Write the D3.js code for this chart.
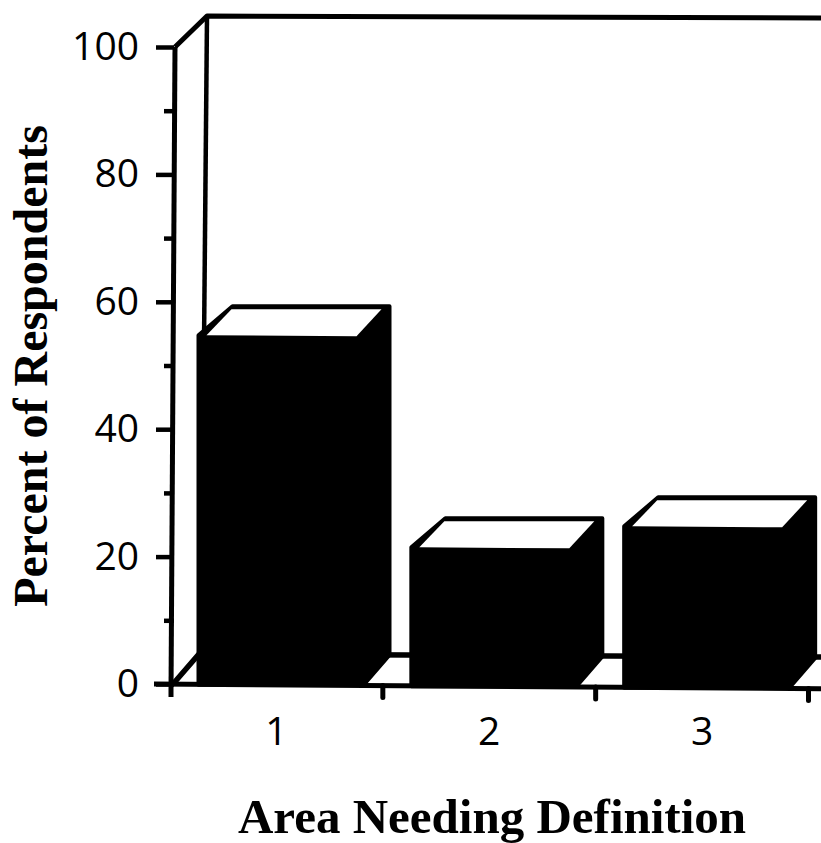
<!DOCTYPE html>
<html><head><meta charset="utf-8">
<script src="https://cdn.jsdelivr.net/npm/d3@7/dist/d3.min.js"></script>
<style>html,body{margin:0;padding:0;background:#fff}svg{display:block}</style>
</head><body><svg id="c" width="821" height="843"></svg>
<script>
const categories=["1","2","3"];
const values=[54.6,21.3,24.6];
const yTicks=[0,20,40,60,80,100];
const yMinor=[10,30,50,70,90];
const yTitle="Percent of Respondents";
const xTitle="Area Needing Definition";

const svg=d3.select("#c");
const ink="#000";
const y=d3.scaleLinear().domain([0,100]).range([684,47]);
const x=d3.scaleBand().domain(categories).range([170,808.5]);
const dx=34,dy=-31;
const base=px=>684+(px-154)*0.007;          // scan tilt of the base line
const axisX=py=>175-(py-47)*0.0062;         // scan tilt of the y axis

// back wall
svg.append("path").attr("d",`M${axisX(47)},47L207,16L821,18`).attr("fill","none").attr("stroke",ink).attr("stroke-width",5).attr("stroke-linejoin","round");
svg.append("line").attr("x1",207).attr("y1",16).attr("x2",204).attr("y2",345).attr("stroke",ink).attr("stroke-width",4.5);
// floor
svg.append("path").attr("d",`M173,684L199,654L821,657`).attr("fill","none").attr("stroke",ink).attr("stroke-width",5.5);

// bars
const barLeft=d=>x(d)+27.5;
const g=svg.selectAll("g.bar").data(categories).join("g").attr("class","bar");
g.append("path").attr("d",(d,i)=>{
  const l=barLeft(d),t=y(values[i]),b=base(l+80);
  return `M${l+1},${b}L${l+1},${t-1}L${l+dx+1},${t+dy+1}L${l+192},${t+dy+1}L${l+192},${b-30}L${l+166},${b}Z`;
}).attr("fill",ink).attr("stroke",ink).attr("stroke-width",4).attr("stroke-linejoin","round");
g.append("path").attr("d",(d,i)=>{
  const l=barLeft(d),t=y(values[i]);
  return `M${l+9},${t-1}L${l+34},${t-27}L${l+184},${t-27}L${l+159},${t}Z`;
}).attr("fill","#fff");

// y axis
const ya=svg.append("g").attr("transform","translate(174,0)")
  .call(d3.axisLeft(y).tickValues(yTicks).tickSize(18).tickFormat(d3.format("d")).tickPadding(17));
ya.select(".domain").remove();
ya.selectAll("line").attr("stroke",ink).attr("stroke-width",4.5);
ya.selectAll("text").attr("font-family","'Open Sans',sans-serif").attr("font-size",39).attr("fill",ink);
svg.append("g").attr("transform","translate(174,0)")
  .call(d3.axisLeft(y).tickValues(yMinor).tickSize(10).tickFormat(""))
  .call(s=>s.select(".domain").remove())
  .selectAll("line").attr("stroke",ink).attr("stroke-width",4.5);
svg.append("line").attr("x1",axisX(47)).attr("y1",47).attr("x2",axisX(697)).attr("y2",697).attr("stroke",ink).attr("stroke-width",5);

// x axis
const xa=svg.append("g").attr("transform","translate(0,687)")
  .call(d3.axisBottom(x).tickSize(0).tickPadding(30));
xa.select(".domain").remove();
xa.selectAll("text").attr("font-family","'Open Sans',sans-serif").attr("font-size",39).attr("fill",ink);
svg.selectAll("line.xt").data(x.domain().map(d=>x(d)+x.bandwidth())).join("line")
  .attr("x1",d=>d).attr("x2",d=>d).attr("y1",d=>base(d)).attr("y2",d=>base(d)+12)
  .attr("stroke",ink).attr("stroke-width",5).attr("stroke-linecap","round");
svg.append("line").attr("x1",154).attr("x2",821).attr("y1",base(154)).attr("y2",base(821)).attr("stroke",ink).attr("stroke-width",5);

svg.append("text").attr("x",492).attr("y",833).attr("text-anchor","middle").attr("font-family","'Liberation Serif',serif").attr("font-weight","bold").attr("font-size",49).attr("fill",ink).text(xTitle);
svg.append("text").attr("transform","translate(47,366) rotate(-90)").attr("text-anchor","middle").attr("font-family","'Liberation Serif',serif").attr("font-weight","bold").attr("font-size",48).attr("fill",ink).text(yTitle);
</script></body></html>
